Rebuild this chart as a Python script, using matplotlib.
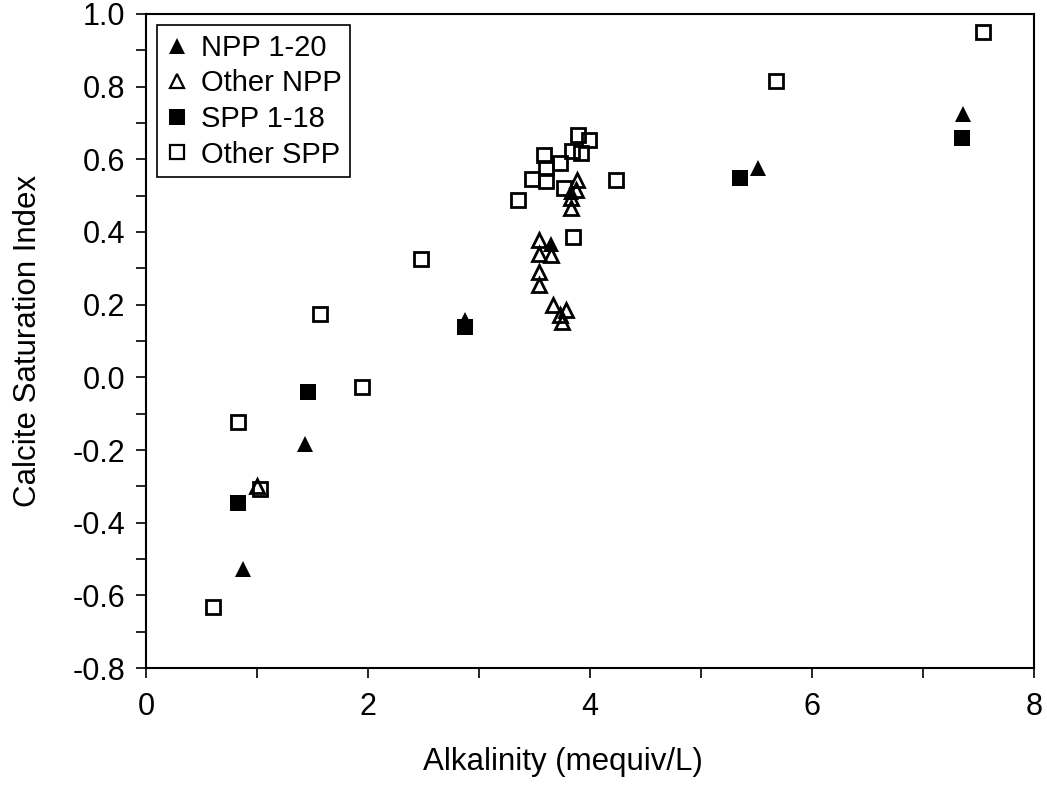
import matplotlib
matplotlib.use("Agg")
import matplotlib.pyplot as plt
from matplotlib.ticker import MultipleLocator, FormatStrFormatter

plt.rcParams['font.family'] = ['Liberation Sans', 'DejaVu Sans']
plt.rcParams['axes.unicode_minus'] = False

# NPP 1-20 (filled triangles)
npp_x = [0.87, 1.43, 2.87, 3.65, 3.83, 5.51, 7.36]
npp_y = [-0.527, -0.183, 0.159, 0.368, 0.510, 0.575, 0.725]

# Other NPP (open triangles)
onpp_x = [1.00, 3.54, 3.54, 3.65, 3.54, 3.54, 3.67, 3.78, 3.73, 3.75,
          3.83, 3.83, 3.87, 3.88]
onpp_y = [-0.298, 0.377, 0.340, 0.336, 0.290, 0.253, 0.198, 0.185, 0.171, 0.152,
          0.467, 0.493, 0.515, 0.543]

# SPP 1-18 (filled squares)
spp_x = [0.83, 1.46, 2.87, 5.35, 7.35]
spp_y = [-0.347, -0.040, 0.139, 0.549, 0.658]

# Other SPP (open squares)
ospp_x = [0.60, 0.83, 1.03, 1.57, 1.95, 2.48, 3.35, 3.48, 3.59, 3.60, 3.60,
          3.73, 3.77, 3.84, 3.89, 3.92, 3.99, 4.23, 3.85, 5.68, 7.54]
ospp_y = [-0.633, -0.123, -0.307, 0.175, -0.027, 0.327, 0.488, 0.547, 0.612,
          0.575, 0.540, 0.589, 0.521, 0.623, 0.667, 0.618, 0.653, 0.543, 0.386,
          0.816, 0.950]

fig = plt.figure(figsize=(10.47, 7.90), dpi=100)
ax = fig.add_axes([0.1395, 0.1544, 0.848, 0.8279])

ax.plot(npp_x, npp_y, '^', color='black', ms=11.5, mew=0, label='NPP 1-20')
ax.plot(onpp_x, onpp_y, '^', mfc='none', mec='black', ms=10.5, mew=2, label='Other NPP')
ax.plot(spp_x, spp_y, 's', color='black', ms=11.5, mew=0, label='SPP 1-18')
ax.plot(ospp_x, ospp_y, 's', mfc='none', mec='black', ms=10, mew=2, label='Other SPP')

ax.set_xlim(0, 8)
ax.set_ylim(-0.8, 1.0)
ax.xaxis.set_major_locator(MultipleLocator(2))
ax.xaxis.set_minor_locator(MultipleLocator(1))
ax.yaxis.set_major_locator(MultipleLocator(0.2))
ax.yaxis.set_minor_locator(MultipleLocator(0.1))
ax.yaxis.set_major_formatter(FormatStrFormatter('%.1f'))
ax.xaxis.set_major_formatter(FormatStrFormatter('%d'))

ax.tick_params(which='both', direction='out', length=7, width=1.2, labelsize=22)
ax.tick_params(axis='x', pad=10)
ax.tick_params(axis='y', pad=8)
for s in ax.spines.values():
    s.set_linewidth(1.5)

ax.set_xlabel('Alkalinity (mequiv/L)', fontsize=22.5, labelpad=18)
ax.xaxis.label.set_x(0.47)
ax.set_ylabel('Calcite Saturation Index', fontsize=22.5, labelpad=21)

leg = ax.legend(loc='upper left', bbox_to_anchor=(0.0124, 0.983), fontsize=21,
                markerscale=0.95, handlelength=0.8, handletextpad=0.4,
                labelspacing=0.26, borderpad=0.3, fancybox=False,
                framealpha=1, edgecolor='black', borderaxespad=0)
leg.get_frame().set_linewidth(1.2)
for h in leg.legend_handles:
    h.set_markeredgewidth(1.6 if h.get_markerfacecolor() == 'none' else 0)

fig.savefig('out.png', dpi=100)
